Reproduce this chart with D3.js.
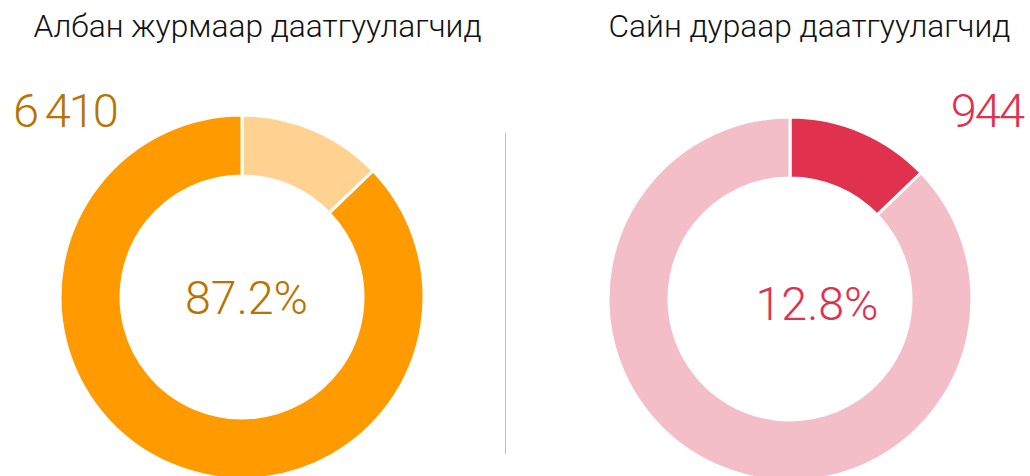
<!DOCTYPE html>
<html><head><meta charset="utf-8">
<script src="https://cdn.jsdelivr.net/npm/d3@7"></script>
<style>body{margin:0;background:#fff;} text{font-family:Roboto,"Noto Sans",sans-serif;}</style>
</head><body>
<svg id="c" width="1030" height="476"></svg>
<script>
const categories = ["Сайн дураар даатгуулагчид", "Албан журмаар даатгуулагчид"];
const counts = [944, 6410];
const shares = [12.8, 87.2];
const panelOrder = [1, 0]; // left panel shows Албан, right shows Сайн

const strongColors = ["#E0314F", "#FF9A00"];
const lightColors = ["#F4BEC8", "#FFD291"];
const textColors = ["#E0314F", "#B87400"];

const svg = d3.select("#c");
const panels = [
  {cx: 242, cy: 297, titleX: 257.5, numX: 13, numAnchor: "start", pctX: 246.5, pctY: 314},
  {cx: 790, cy: 299, titleX: 809.5, numX: 1023, numAnchor: "end", pctX: 817, pctY: 320}
];
const pie = d3.pie().sort(null).value(d => d);
const arc = d3.arc().innerRadius(121).outerRadius(182);

panelOrder.forEach((ci, p) => {
  const P = panels[p];
  const g = svg.append("g");
  g.append("text").attr("x", P.titleX).attr("y", 37).attr("text-anchor", "middle")
    .attr("font-size", 31.7).attr("font-weight", 300).attr("fill", "#111").text(categories[ci]);
  g.append("text").attr("x", P.numX).attr("y", 126.5).attr("text-anchor", P.numAnchor)
    .attr("font-size", 47).attr("font-weight", 300).attr("letter-spacing", -2)
    .attr("fill", textColors[ci])
    .text(d3.format(",")(counts[ci]).replace(/,/g, "\u2009"));
  const arcs = pie(shares);
  g.append("g").attr("transform", `translate(${P.cx},${P.cy})`)
    .selectAll("path").data(arcs).join("path")
    .attr("d", arc)
    .attr("fill", (d, i) => i === ci ? strongColors[ci] : lightColors[ci])
    .attr("stroke", "#fff").attr("stroke-width", 3);
  g.append("text").attr("x", P.pctX).attr("y", P.pctY).attr("text-anchor", "middle")
    .attr("font-size", 46.5).attr("font-weight", 300).attr("fill", textColors[ci])
    .text(shares[ci].toFixed(1) + "%");
});

svg.append("line").attr("x1", 505.5).attr("x2", 505.5).attr("y1", 133).attr("y2", 454)
  .attr("stroke", "#bbb").attr("stroke-width", 1);
</script>
</body></html>
